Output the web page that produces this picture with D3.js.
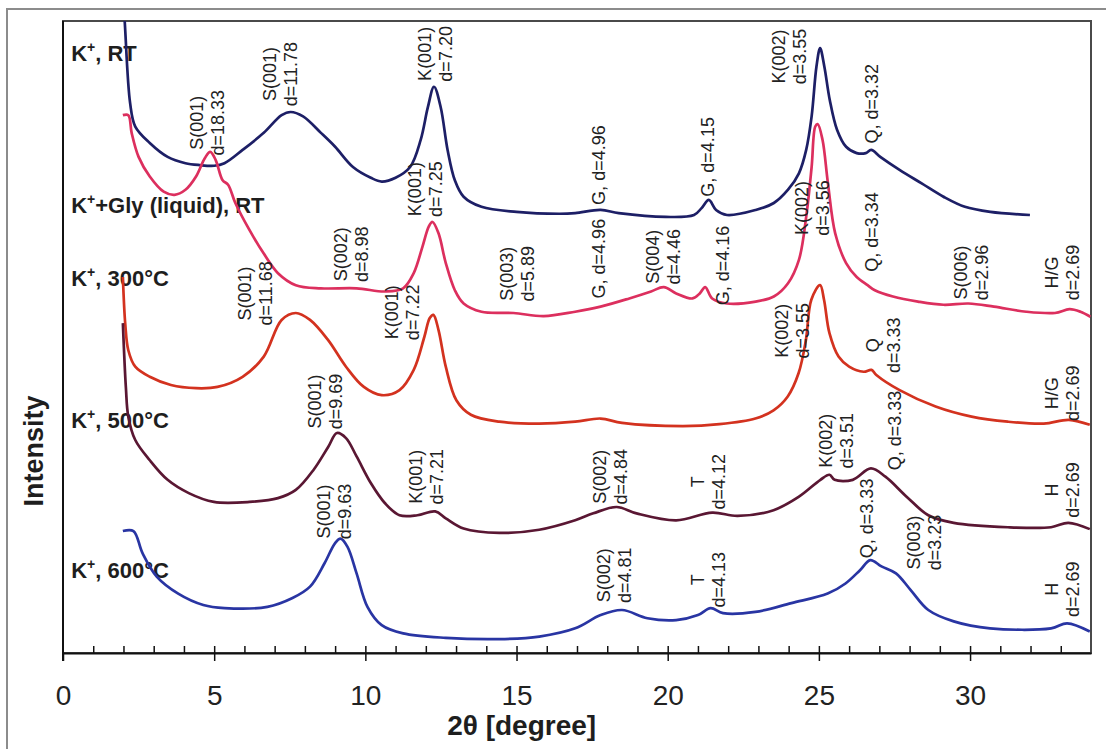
<!DOCTYPE html>
<html>
<head>
<meta charset="utf-8">
<script src="https://cdn.jsdelivr.net/npm/d3@7"></script>
<style>
  body { margin: 0; background: #fff; }
  text { font-family: "Liberation Sans", Arial, sans-serif; }
</style>
</head>
<body>
<div id="chart"></div>
<script>
// XRD patterns, values (intensity in arbitrary units, 0-100 = plot height)

var rtTheta = [1.98, 2.04, 2.22, 2.39, 2.87, 3.46, 4.05, 4.52, 5.0, 5.34, 5.94, 6.64, 7.23, 7.53, 7.94, 8.53, 9.0, 9.59, 10.18, 10.54, 11.0, 11.48, 11.83, 12.07, 12.27, 12.49, 12.72, 12.96, 13.25, 13.84, 15.0, 16.41, 16.94, 17.78, 18.38, 19.93, 20.87, 21.12, 21.36, 21.6, 21.96, 22.91, 23.51, 23.98, 24.34, 24.58, 24.76, 24.92, 25.04, 25.18, 25.36, 25.6, 25.9, 26.25, 26.55, 26.73, 27.03, 27.68, 28.4, 29.12, 29.83, 30.67, 31.98];
var rtInt = [104, 100, 87, 83.3, 80.7, 78.5, 77.5, 77.2, 77.1, 77.5, 79.6, 82.3, 85.1, 85.6, 84.9, 82.3, 80.1, 76.9, 75.2, 74.6, 75.2, 76.9, 81.2, 86.4, 89.6, 86.4, 79.6, 74.8, 72.2, 70.6, 69.8, 69.5, 69.6, 70.1, 69.6, 69.0, 69.3, 70.4, 71.7, 70.1, 69.3, 70.1, 71.2, 73.3, 75.9, 79.6, 84.9, 92.8, 95.7, 92.8, 87.5, 82.8, 80.1, 79.1, 79.1, 79.6, 78.5, 76.4, 74.3, 72.2, 70.6, 69.8, 69.3];

var glyTheta = [1.98, 2.16, 2.27, 2.5, 2.87, 3.33, 3.69, 4.05, 4.4, 4.69, 4.87, 5.05, 5.28, 5.46, 5.7, 6.17, 6.64, 7.11, 7.7, 8.53, 9.71, 10.65, 11.25, 11.6, 11.89, 12.1, 12.22, 12.42, 12.66, 12.96, 13.25, 13.84, 14.9, 15.9, 16.94, 17.78, 18.73, 19.45, 19.87, 20.28, 20.82, 21.06, 21.24, 21.47, 21.96, 22.91, 23.51, 23.98, 24.34, 24.58, 24.76, 24.88, 24.96, 25.12, 25.3, 25.54, 25.9, 26.25, 26.61, 26.85, 27.45, 28.28, 29.12, 29.95, 30.79, 31.86, 32.81, 33.29, 33.65, 33.98];
var glyInt = [85.1, 85.1, 82.3, 78.5, 75.4, 73.0, 72.5, 73.3, 75.4, 78.3, 79.3, 78.0, 74.8, 74.1, 71.2, 66.9, 63.2, 60.1, 58.2, 57.7, 57.7, 57.2, 57.7, 60.1, 64.3, 67.5, 68.2, 66.4, 61.7, 57.4, 55.3, 54.0, 53.8, 53.3, 54.0, 54.8, 56.1, 57.2, 57.9, 56.9, 56.1, 56.9, 57.9, 56.1, 55.3, 55.6, 56.4, 58.5, 62.2, 69.0, 76.9, 83.3, 83.7, 81.2, 74.3, 66.4, 61.7, 59.5, 58.2, 57.4, 56.4, 55.6, 55.1, 55.3, 54.8, 54.0, 53.8, 54.4, 54.0, 53.2];

var t300Theta = [1.98, 2.06, 2.16, 2.39, 2.87, 3.57, 4.4, 5.11, 5.94, 6.64, 7.23, 7.7, 8.17, 8.77, 9.36, 9.95, 10.54, 11.13, 11.6, 11.95, 12.13, 12.25, 12.42, 12.66, 13.01, 13.49, 14.43, 15.75, 16.94, 17.78, 18.49, 20.5, 21.71, 22.9, 23.5, 23.97, 24.33, 24.57, 24.75, 25.04, 25.17, 25.35, 25.65, 26.0, 26.48, 26.74, 26.9, 27.67, 28.86, 30.05, 31.25, 32.44, 33.27, 33.96];
var t300Int = [59.5, 52.0, 47.9, 45.3, 43.7, 42.4, 41.9, 42.1, 43.7, 46.9, 52.7, 53.8, 52.7, 49.5, 45.3, 42.1, 40.8, 41.6, 44.8, 50.0, 53.0, 53.5, 51.1, 45.3, 40.0, 37.7, 36.6, 36.3, 36.6, 37.1, 36.4, 35.9, 36.2, 37.1, 38.4, 40.6, 44.3, 49.5, 55.9, 58.2, 55.9, 50.6, 46.9, 45.3, 44.5, 44.8, 44.0, 41.6, 39.0, 37.4, 36.6, 36.3, 36.9, 36.1];

var t500Theta = [1.98, 2.08, 2.16, 2.39, 2.87, 3.46, 4.16, 4.99, 6.17, 7.11, 7.7, 8.29, 8.77, 9.06, 9.36, 9.71, 10.18, 10.65, 11.13, 11.72, 12.31, 12.66, 13.25, 14.43, 15.75, 16.94, 17.54, 18.31, 18.97, 20.28, 21.47, 22.31, 23.5, 24.33, 25.05, 25.35, 25.52, 26.12, 26.72, 27.2, 27.91, 28.62, 29.46, 31.25, 32.68, 33.25, 33.96];
var t500Int = [52.2, 42.0, 37.4, 33.7, 30.5, 27.4, 25.3, 23.9, 23.9, 24.5, 25.8, 29.0, 32.6, 34.8, 34.0, 31.1, 26.9, 23.7, 21.8, 21.8, 22.4, 21.3, 19.7, 19.0, 19.5, 21.0, 22.1, 23.1, 22.1, 21.0, 22.2, 21.7, 22.6, 24.7, 27.4, 28.2, 27.4, 27.4, 29.2, 27.9, 24.7, 21.8, 20.6, 19.9, 19.9, 20.6, 19.6];

var t600Theta = [1.98, 2.33, 2.63, 3.1, 3.81, 4.64, 5.34, 6.76, 7.59, 8.17, 8.65, 9.0, 9.18, 9.41, 9.71, 10.07, 10.54, 11.25, 12.66, 14.43, 15.75, 16.94, 17.78, 18.49, 19.33, 20.28, 21.0, 21.42, 21.83, 22.9, 24.09, 25.29, 25.88, 26.36, 26.7, 27.07, 27.55, 28.03, 28.62, 29.46, 30.66, 32.68, 33.21, 33.96];
var t600Int = [19.3, 19.3, 15.8, 12.1, 9.4, 7.6, 7.1, 7.3, 8.7, 10.5, 14.2, 17.4, 18.1, 16.8, 12.6, 7.3, 4.4, 3.1, 2.4, 2.2, 2.6, 3.9, 6.0, 6.8, 5.5, 5.2, 6.0, 7.1, 6.3, 6.5, 7.9, 9.4, 11.0, 13.1, 14.7, 13.7, 12.6, 10.0, 6.8, 5.0, 3.9, 3.9, 4.7, 3.4];

// series label text (after "K" + superscript "+") and where it sits
var seriesTail = [", RT", "+Gly (liquid), RT", ", 300\u00B0C", ", 500\u00B0C", ", 600\u00B0C"];
var seriesLabelTheta = [0.27, 0.27, 0.27, 0.27, 0.27];
var seriesLabelInt = [93.7, 69.6, 58.0, 35.6, 11.8];

// peak annotations: 2theta, intensity, lines of text
var peakTheta = [4.75, 7.17, 12.31, 17.72, 21.33, 24.0, 26.73,
                 11.97, 9.52, 15.02, 17.72, 19.84, 21.81, 24.79, 26.73, 30.03, 33.05,
                 6.36, 11.21, 24.12, 27.12, 33.03,
                 8.68, 12.01, 18.08, 21.34, 25.57, 27.52, 33.03,
                 8.97, 18.23, 21.34, 26.57, 28.48, 33.03];
var peakInt = [83.9, 91.6, 94.8, 77.2, 78.5, 94.4, 86.9,
               73.4, 63.1, 60.0, 62.4, 62.7, 61.3, 70.4, 66.6, 60.2, 60.2,
               56.9, 53.9, 51.0, 48.7, 41.1,
               39.8, 27.9, 27.9, 27.1, 33.6, 35.2, 25.8,
               22.4, 12.3, 11.6, 21.3, 17.5, 10.1];
var peakText = [["S(001)", "d=18.33"], ["S(001)", "d=11.78"], ["K(001)", "d=7.20"], ["G, d=4.96"], ["G, d=4.15"], ["K(002)", "d=3.55"], ["Q, d=3.32"],
                ["K(001)", "d=7.25"], ["S(002)", "d=8.98"], ["S(003)", "d=5.89"], ["G, d=4.96"], ["S(004)", "d=4.46"], ["G, d=4.16"], ["K(002)", "d=3.56"], ["Q, d=3.34"], ["S(006)", "d=2.96"], ["H/G", "d=2.69"],
                ["S(001)", "d=11.68"], ["K(001)", "d=7.22"], ["K(002)", "d=3.55"], ["Q", "d=3.33"], ["H/G", "d=2.69"],
                ["S(001)", "d=9.69"], ["K(001)", "d=7.21"], ["S(002)", "d=4.84"], ["T", "d=4.12"], ["K(002)", "d=3.51"], ["Q, d=3.33"], ["H", "d=2.69"],
                ["S(001)", "d=9.63"], ["S(002)", "d=4.81"], ["T", "d=4.13"], ["Q, d=3.33"], ["S(003)", "d=3.23"], ["H", "d=2.69"]];

var xTicks = [0, 5, 10, 15, 20, 25, 30];

var svgWidth = 1106;
var svgHeight = 749;

var margin = {
  top: 21,
  right: 15,
  bottom: 96,
  left: 63
};

var chartWidth = svgWidth - margin.left - margin.right;
var chartHeight = svgHeight - margin.top - margin.bottom;

var svg = d3.select("#chart")
  .append("svg")
  .attr("width", svgWidth)
  .attr("height", svgHeight);

// outer frame of the figure
svg.append("path")
  .attr("d", "M7,749 V9 H1106")
  .attr("fill", "none")
  .attr("stroke", "#8c8c8c")
  .attr("stroke-width", 2);

var chartGroup = svg.append("g")
  .attr("transform", `translate(${margin.left}, ${margin.top})`);

var xScale = d3.scaleLinear().domain([0, 34]).range([0, chartWidth]);
var yScale = d3.scaleLinear().domain([0, 100]).range([chartHeight, 0]);

// plot box
chartGroup.append("rect")
  .attr("width", chartWidth)
  .attr("height", chartHeight)
  .attr("fill", "none")
  .attr("stroke", "#4a4a4a")
  .attr("stroke-width", 2);

chartGroup.append("clipPath")
  .attr("id", "plotclip")
  .append("rect")
  .attr("width", chartWidth)
  .attr("height", chartHeight);

// series labels (drawn under the curves)
var labelGroup = chartGroup.append("g")
  .attr("font-weight", "bold")
  .attr("font-size", 22)
  .attr("fill", "#1e1e1e");

seriesTail.forEach(function(tail, i) {
  var t = labelGroup.append("text")
    .attr("x", xScale(seriesLabelTheta[i]))
    .attr("y", yScale(seriesLabelInt[i]));
  t.append("tspan").text("K");
  t.append("tspan").attr("font-size", 14).attr("dy", -9).text("+");
  t.append("tspan").attr("dy", 9).text(tail);
});

// curves
var series = [
  {theta: rtTheta, val: rtInt, color: "#1d1f66"},
  {theta: glyTheta, val: glyInt, color: "#dc2f5e"},
  {theta: t300Theta, val: t300Int, color: "#d3321f"},
  {theta: t500Theta, val: t500Int, color: "#5a1733"},
  {theta: t600Theta, val: t600Int, color: "#2935a3"}
];

var line = d3.line()
  .x(d => xScale(d[0]))
  .y(d => yScale(d[1]))
  .curve(d3.curveCatmullRom.alpha(0.5));

chartGroup.append("g")
  .attr("clip-path", "url(#plotclip)")
  .selectAll("path")
  .data(series)
  .enter()
  .append("path")
  .attr("d", d => line(d3.zip(d.theta, d.val)))
  .attr("fill", "none")
  .attr("stroke", d => d.color)
  .attr("stroke-width", 2.7)
  .attr("stroke-linejoin", "round");

// peak annotations, rotated
var lineGap = 21;
var capHalf = 6.4;
var annGroup = chartGroup.append("g")
  .attr("font-size", 18)
  .attr("fill", "#222")
  .attr("text-anchor", "middle");

peakText.forEach(function(lines, i) {
  var g = annGroup.append("g")
    .attr("transform", `translate(${xScale(peakTheta[i])}, ${yScale(peakInt[i])}) rotate(-90)`);
  lines.forEach(function(s, j) {
    g.append("text")
      .attr("x", 0)
      .attr("y", (j - (lines.length - 1) / 2) * lineGap + capHalf)
      .text(s);
  });
});

// x axis: major ticks hang below, all integer ticks point up into the plot
var xAxis = d3.axisBottom(xScale)
  .tickValues(xTicks)
  .tickSizeInner(8)
  .tickSizeOuter(0)
  .tickPadding(24)
  .tickFormat(d3.format("d"));

var xAxisG = chartGroup.append("g")
  .attr("transform", `translate(0, ${chartHeight})`)
  .call(xAxis);
xAxisG.select(".domain").attr("stroke", "#111").attr("stroke-width", 2);
xAxisG.selectAll(".tick line").attr("stroke", "#111").attr("stroke-width", 1.5);
xAxisG.selectAll(".tick text")
  .attr("font-family", "Liberation Sans, Arial, sans-serif")
  .attr("font-size", 28)
  .attr("fill", "#222");

var minorAxis = d3.axisTop(xScale)
  .tickValues(d3.range(1, 34))
  .tickSizeInner(7)
  .tickSizeOuter(0)
  .tickFormat("");

var minorG = chartGroup.append("g")
  .attr("transform", `translate(0, ${chartHeight})`)
  .call(minorAxis);
minorG.select(".domain").remove();
minorG.selectAll(".tick line").attr("stroke", "#111").attr("stroke-width", 1.5);

// left axis line
chartGroup.append("line")
  .attr("x1", 0).attr("x2", 0)
  .attr("y1", 0).attr("y2", chartHeight + 8)
  .attr("stroke", "#111")
  .attr("stroke-width", 2);

// axis titles
chartGroup.append("text")
  .attr("x", xScale(15.17))
  .attr("y", chartHeight + 82)
  .attr("text-anchor", "middle")
  .attr("font-weight", "bold")
  .attr("font-size", 28)
  .attr("fill", "#1e1e1e")
  .text("2\u03B8 [degree]");

svg.append("text")
  .attr("transform", "translate(43, 451) rotate(-90)")
  .attr("text-anchor", "middle")
  .attr("font-weight", "bold")
  .attr("font-size", 27)
  .attr("fill", "#1e1e1e")
  .text("Intensity");
</script>
</body>
</html>
